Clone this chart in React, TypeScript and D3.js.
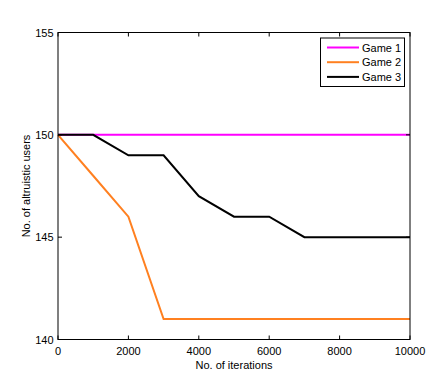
import React from "react";
import * as d3 from "d3";

const iterations = [0, 1000, 2000, 3000, 4000, 5000, 6000, 7000, 8000, 9000, 10000];
const game1 = [150, 150, 150, 150, 150, 150, 150, 150, 150, 150, 150];
const game2 = [150, 148, 146, 141, 141, 141, 141, 141, 141, 141, 141];
const game3 = [150, 150, 149, 149, 147, 146, 146, 145, 145, 145, 145];
const seriesNames = ["Game 1", "Game 2", "Game 3"];
const seriesColors = ["#ff00ff", "#ff8020", "#000000"];
const xTicks = [0, 2000, 4000, 6000, 8000, 10000];
const yTicks = [140, 145, 150, 155];

export default function App() {
  const W = 432, H = 381;
  const left = 58, right = 410, top = 32.5, bottom = 339.5;
  const x = d3.scaleLinear().domain([0, 10000]).range([left, right]);
  const y = d3.scaleLinear().domain([140, 155]).range([bottom, top]);
  const series = [game1, game2, game3];
  const line = d3.line<number>().x((_, i) => x(iterations[i])).y((d) => y(d));
  const font = "'Liberation Sans', Arial, sans-serif";
  const tl = 4;
  return (
    <svg width={W} height={H} style={{ position: "absolute", left: 0, top: 0 }} fontFamily={font}>
      <rect x={0} y={0} width={W} height={H} fill="#fff" />
      {series.map((s, k) => (
        <path key={k} d={line(s) || ""} fill="none" stroke={seriesColors[k]} strokeWidth={2} />
      ))}
      <rect x={left} y={top} width={right - left} height={bottom - top} fill="none" stroke="#000" strokeWidth={1} />
      {xTicks.map((t) => (
        <g key={t}>
          <line x1={x(t)} x2={x(t)} y1={bottom} y2={bottom - tl} stroke="#000" />
          <line x1={x(t)} x2={x(t)} y1={top} y2={top + tl} stroke="#000" />
          <text x={x(t)} y={bottom + 15.5} fontSize={11} textAnchor="middle" fill="#000">{t}</text>
        </g>
      ))}
      {yTicks.map((t) => (
        <g key={t}>
          <line x1={left} x2={left + tl} y1={y(t)} y2={y(t)} stroke="#000" />
          <line x1={right} x2={right - tl} y1={y(t)} y2={y(t)} stroke="#000" />
          <text x={left - 4.5} y={y(t) + 4} fontSize={11} textAnchor="end" fill="#000">{t}</text>
        </g>
      ))}
      <text x={(left + right) / 2} y={368.5} fontSize={11} textAnchor="middle" fill="#000">No. of iterations</text>
      <text transform={`translate(30,${(top + bottom) / 2}) rotate(-90)`} fontSize={11} textAnchor="middle" fill="#000">No. of altruistic users</text>
      <rect x={320.5} y={38} width={84} height={48.5} fill="#fff" stroke="#000" strokeWidth={1} />
      {seriesNames.map((n, k) => (
        <g key={n}>
          <line x1={327} x2={359} y1={47.5 + k * 14.7} y2={47.5 + k * 14.7} stroke={seriesColors[k]} strokeWidth={2} />
          <text x={362} y={51.5 + k * 14.7} fontSize={11} fill="#000">{n}</text>
        </g>
      ))}
    </svg>
  );
}
